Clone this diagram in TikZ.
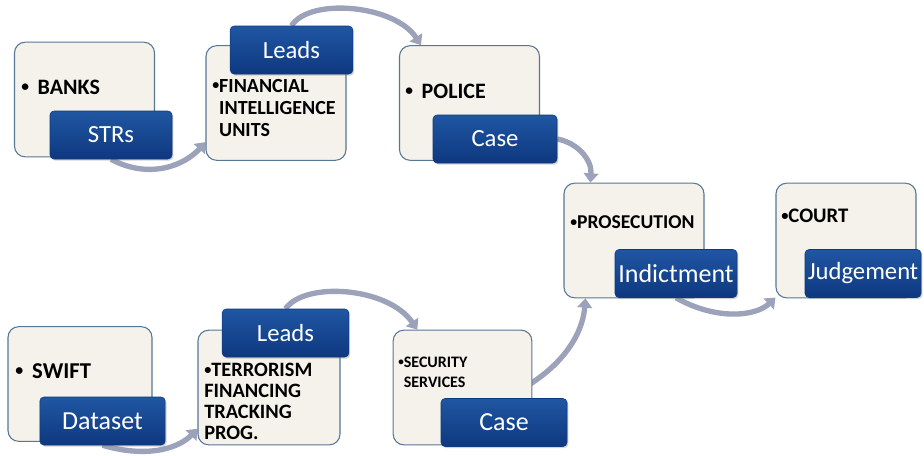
\documentclass[tikz,border=0pt]{standalone}
\usepackage{fontspec}
\setmainfont{Carlito}
\usetikzlibrary{arrows.meta}
\usetikzlibrary{shadows}
\usetikzlibrary{backgrounds}
\definecolor{boxfill}{RGB}{244,242,234}
\definecolor{boxline}{RGB}{88,118,150}
\definecolor{tabtop}{RGB}{32,86,162}
\definecolor{tabbot}{RGB}{14,56,128}
\definecolor{flowgrey}{RGB}{156,162,186}
\newcommand{\dotmark}{\raisebox{0.12em}{\scalebox{0.7}{\textbullet}}}

\begin{document}
\begin{tikzpicture}[x=0.75pt,y=0.75pt,
    stage/.style={draw=boxline,fill=boxfill,line width=0.8pt,rounded corners=8pt,
        minimum width=105pt,minimum height=86pt,inner sep=0pt},
    tab/.style={top color=tabtop,bottom color=tabbot,draw=tabbot,rounded corners=3pt,
        minimum width=92pt,minimum height=36pt,inner sep=0pt,text=white,
        font=\fontsize{18.5}{20}\selectfont,
        drop shadow={opacity=0.35,shadow xshift=1pt,shadow yshift=-1.2pt}},
    bigtab/.style={font=\fontsize{19.5}{21}\selectfont},
    item/.style 2 args={font=\bfseries\fontsize{#1}{#2}\selectfont,align=left,inner sep=0pt},
    flow/.style={draw=flowgrey,line width=4pt,-{Triangle[length=7pt,width=11pt]}}]
    \useasboundingbox (0,0) rectangle (924,455);

    % top line
    \node[stage] (banks) at (84.5,355.5) {};
    \node[stage] (fiu) at (276,352) {};
    \node[stage] (police) at (469.5,352) {};
    \node[stage] (prosecution) at (634,214.5) {};
    \node[stage] (court) at (846,214.5) {};
    % bottom line
    \node[stage,minimum width=108pt] (swift) at (80,71) {};
    \node[stage,minimum width=106.5pt] (tftp) at (269,67.5) {};
    \node[stage,minimum width=104pt] (secsvc) at (462.5,67.5) {};

    \node[item={16.5}{18},anchor=west] (banksT) at (21,368) {\dotmark\hspace{0.4em}BANKS};
    \node[item={15}{16.5},anchor=north west] (fiuT) at (212,376)
        {\dotmark FINANCIAL\\\hphantom{\dotmark}INTELLIGENCE\\\hphantom{\dotmark}UNITS};
    \node[item={16.5}{18},anchor=west] (policeT) at (405,364) {\dotmark\hspace{0.4em}POLICE};
    \node[item={14.7}{16},anchor=west] (prosecutionT) at (570,233) {\dotmark PROSECUTION};
    \node[item={15.5}{17},anchor=west] (courtT) at (781,239) {\dotmark COURT};
    \node[item={17}{18},anchor=west] (swiftT) at (15,84) {\dotmark\hspace{0.4em}SWIFT};
    \node[item={15.3}{15.75},anchor=north west] (tftpT) at (204,92)
        {\dotmark TERRORISM\\FINANCING\\TRACKING\\PROG.};
    \node[item={12}{15},anchor=north west] (secsvcT) at (398,98)
        {\dotmark SECURITY\\\hphantom{\dotmark}SERVICES};

    \node[tab,minimum width=91.5pt] (strs) at (111,320) {STRs};
    \node[tab] (leadsa) at (291.5,405) {Leads};
    \node[tab,minimum width=93pt] (casea) at (495,316) {Case};
    \node[tab,bigtab,minimum width=91.5pt] (indict) at (676,181.5) {Indictment};
    \node[tab,minimum width=87pt] (judge) at (863,181.5) {Judgement};
    \node[tab,bigtab,minimum width=94pt] (dataset) at (102.5,34) {Dataset};
    \node[tab,minimum width=95pt] (leadsb) at (285.5,122) {Leads};
    \node[tab,bigtab,minimum width=94.5pt] (caseb) at (504,32.5) {Case};

    \begin{scope}[on background layer]
    \draw[flow] (strs.south) .. controls (150,275) and (185,290) .. (fiu.209);
    \draw[flow] (leadsa.north) .. controls (310,458) and (395,450) .. (police.130);
    \draw[flow] (casea.east) .. controls (578,312) and (592,295) .. (prosecution.127);
    \draw[flow] (indict.south) .. controls (715,135) and (755,138) .. (court.219);
    \draw[flow] (dataset.south) .. controls (150,-4) and (180,8) .. (tftp.210);
    \draw[flow] (leadsb.north) .. controls (305,174) and (388,168) .. (secsvc.128);
    \draw[flow] (caseb.north) .. controls (555,80) and (582,115) .. (prosecution.230);
    \end{scope}
\end{tikzpicture}
\end{document}
